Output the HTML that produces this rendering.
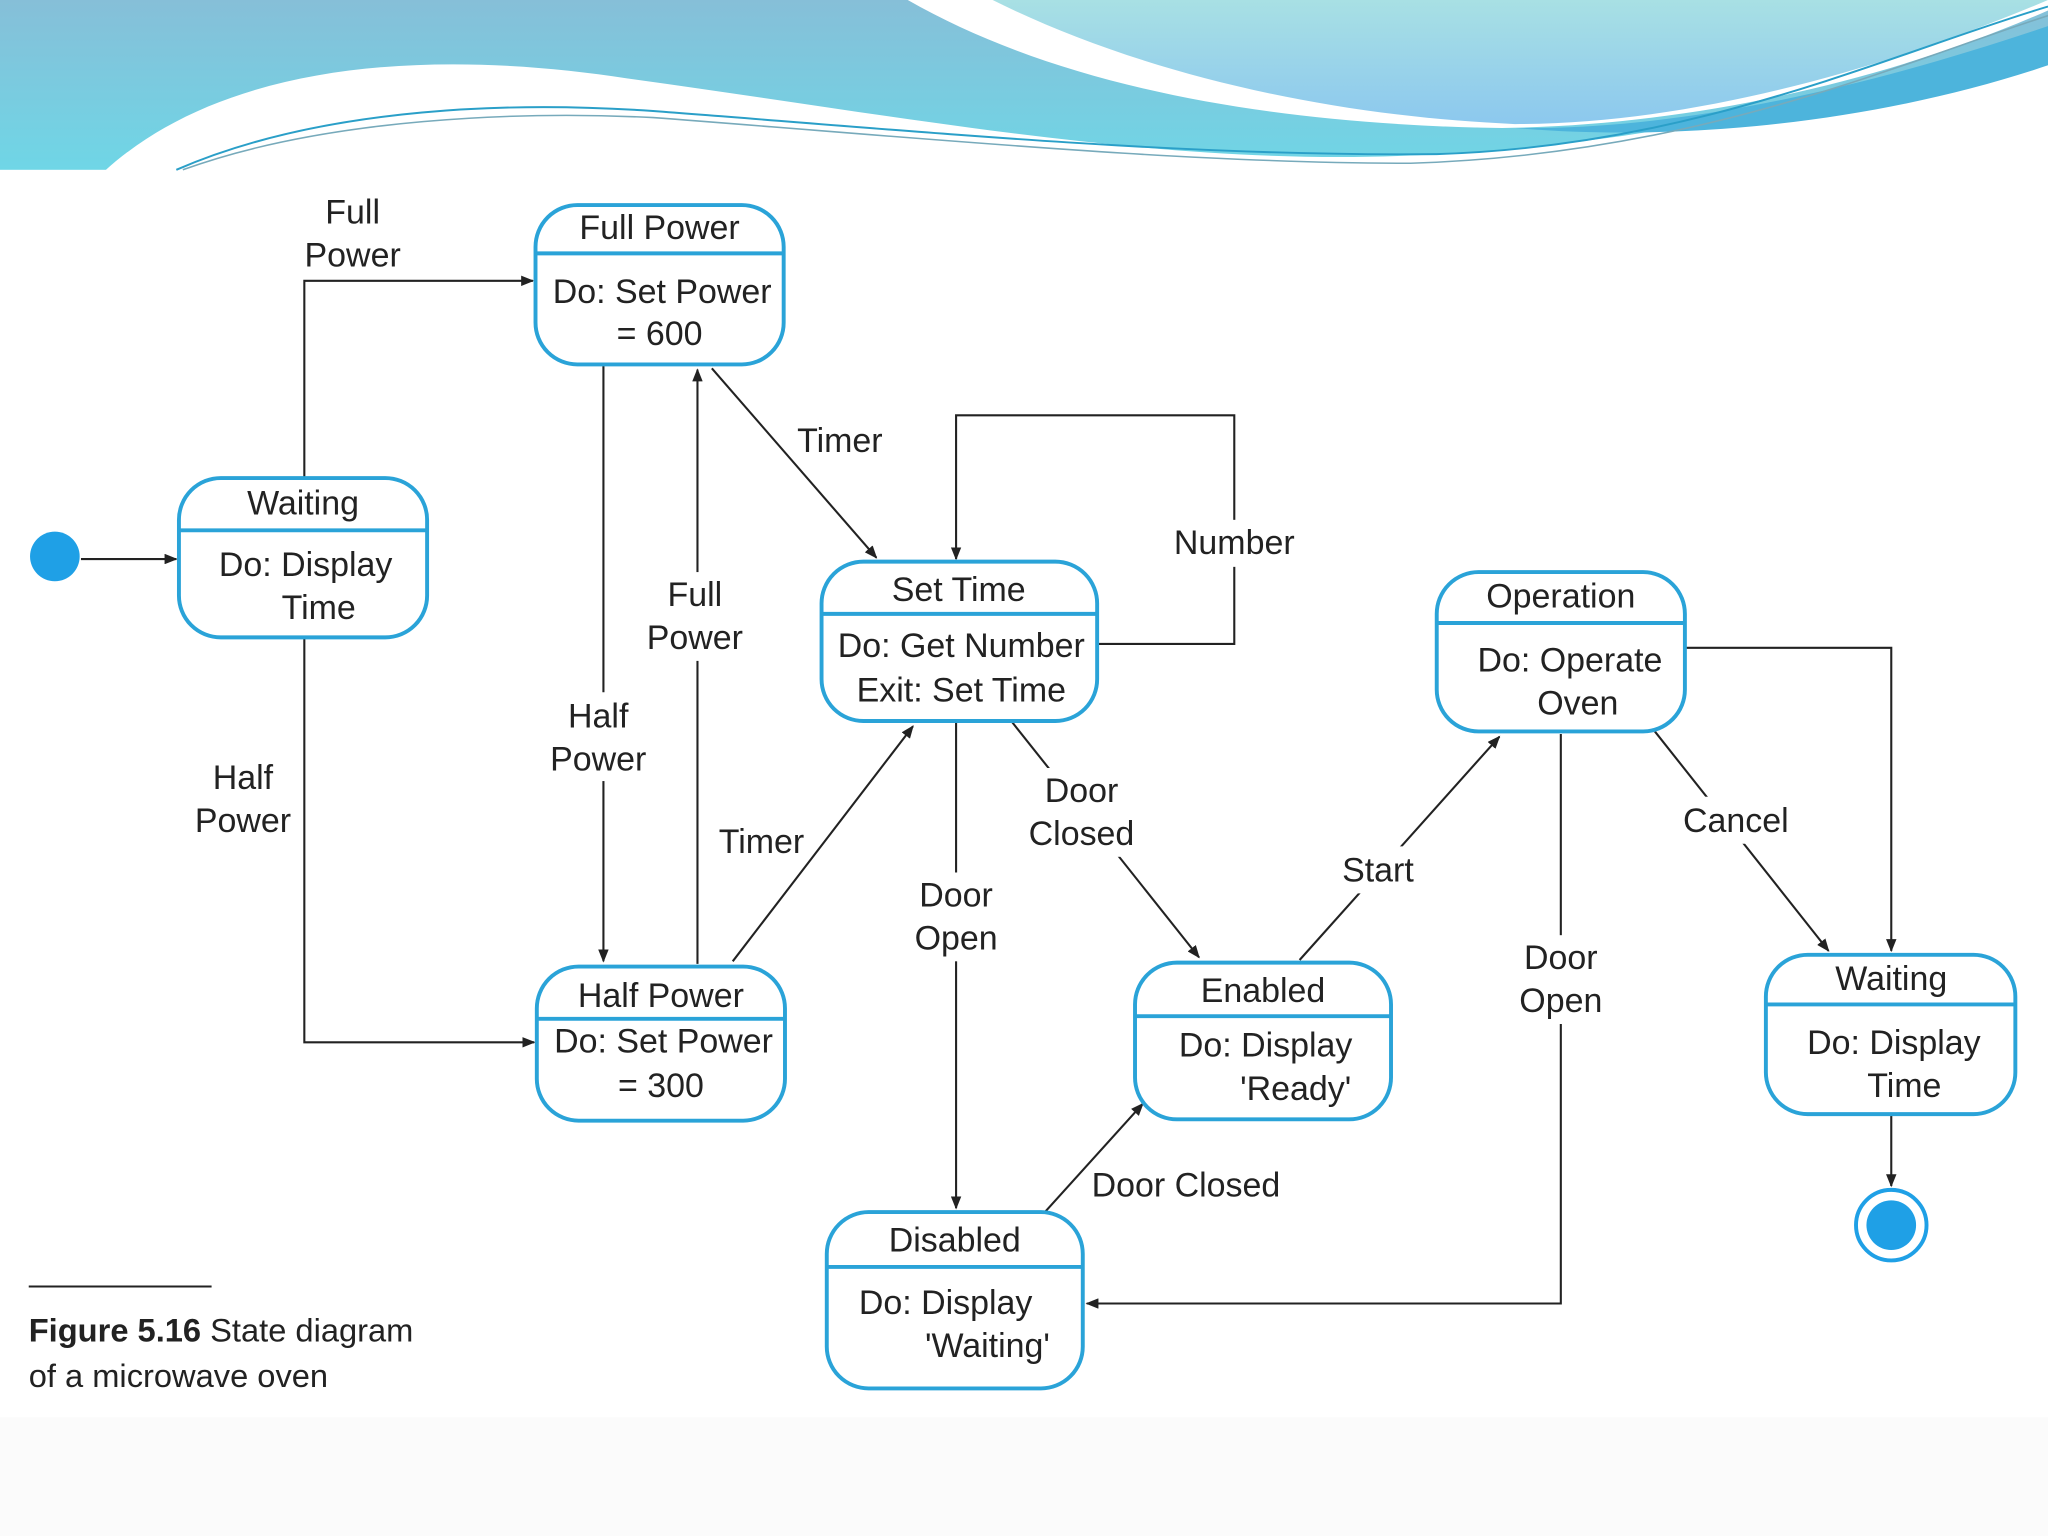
<!DOCTYPE html>
<html><head><meta charset="utf-8"><style>
html,body{margin:0;padding:0;background:#fff;}
svg{display:block;}
text{font-family:"Liberation Sans",sans-serif;fill:#222;}
</style></head><body>
<svg width="2048" height="1536" viewBox="0 0 1568 1176" xmlns="http://www.w3.org/2000/svg">
<defs>
<linearGradient id="g1" x1="0" y1="0" x2="0" y2="1"><stop offset="0" stop-color="#86bfd8"/><stop offset="1" stop-color="#6fd6e6"/></linearGradient>
<linearGradient id="g2" x1="0" y1="0" x2="0" y2="1"><stop offset="0" stop-color="#a8e0e4"/><stop offset="1" stop-color="#8cc8ee"/></linearGradient>
<marker id="a" markerWidth="10" markerHeight="8" refX="9" refY="4" orient="auto" markerUnits="userSpaceOnUse"><path d="M0,0 L10,4 L0,8 z" fill="#222"/></marker>
</defs>
<!-- header -->
<rect x="0" y="0" width="1568" height="130" fill="url(#g1)"/>
<path d="M80,131 C180,40 350,40 480,60 C700,90 900,130 1100,118 C1300,108 1450,60 1568,30 L1568,131 Z" fill="#fff"/>
<path d="M695,0 C800,60 950,95 1150,98 C1300,96 1450,60 1568,8 L1568,0 Z" fill="#fff"/>
<path d="M760,0 C860,50 1000,88 1160,95 C1300,95 1450,50 1568,0 Z" fill="url(#g2)"/>
<path d="M1160,98 C1300,100 1450,60 1568,20 L1568,50 C1450,90 1300,110 1160,98Z" fill="#4db4dc"/>
<path d="M135,130 C250,80 400,78 500,85 C700,100 900,120 1100,118 C1300,112 1450,40 1568,5" fill="none" stroke="#2a9fc8" stroke-width="1.5"/>
<path d="M140,130 C250,90 400,85 500,90 C700,105 900,125 1080,125 C1300,118 1450,50 1568,12" fill="none" stroke="#7ab" stroke-width="1.2"/>
<rect x="0" y="1085" width="1568" height="91" fill="#fbfbfb"/>
<!-- connectors -->
<g stroke="#222" stroke-width="1.6" fill="none" marker-end="url(#a)">
<path d="M62,428 L135,428"/>
<path d="M233,366 L233,215 L408,215"/>
<path d="M233,488 L233,798 L409,798"/>
<path d="M462,280 L462,736"/>
<path d="M534,738 L534,283"/>
<path d="M545,282 L671,427"/>
<path d="M561,736 L699,556"/>
<path d="M840,493 L945,493 L945,318 L732,318 L732,428"/>
<path d="M732,553 L732,925"/>
<path d="M775,553 L918,733"/>
<path d="M995,735 L1148,564"/>
<path d="M800,928 L875,845"/>
<path d="M1195,562 L1195,998 L832,998"/>
<path d="M1267,560 L1400,728"/>
<path d="M1290,496 L1448,496 L1448,728"/>
<path d="M1448,853 L1448,908"/>
</g>
<!-- label backgrounds -->
<g fill="#fff">
<rect x="140" y="578" width="90" height="68"/>
<rect x="415" y="530" width="90" height="68"/>
<rect x="490" y="438" width="90" height="68"/>
<rect x="890" y="398" width="110" height="36"/>
<rect x="690" y="668" width="84" height="68"/>
<rect x="1155" y="716" width="80" height="68"/>
<rect x="1020" y="648" width="70" height="36"/>
<rect x="1285" y="610" width="90" height="36"/>
<rect x="785" y="588" width="90" height="68"/>
</g>
<g font-size="26" text-anchor="middle">
<text x="270" y="171">Full</text><text x="270" y="204">Power</text>
<text x="186" y="604">Half</text><text x="186" y="637">Power</text>
<text x="458" y="557">Half</text><text x="458" y="590">Power</text>
<text x="532" y="464">Full</text><text x="532" y="497">Power</text>
<text x="643" y="346">Timer</text>
<text x="945" y="424">Number</text>
<text x="583" y="653">Timer</text>
<text x="732" y="694">Door</text><text x="732" y="727">Open</text>
<text x="828" y="614">Door</text><text x="828" y="647">Closed</text>
<text x="1055" y="675">Start</text>
<text x="1329" y="637">Cancel</text>
<text x="1195" y="742">Door</text><text x="1195" y="775">Open</text>
<text x="908" y="916">Door Closed</text>
</g>
<!-- states -->
<g fill="#fff" stroke="#2aa3d8" stroke-width="3">
<rect x="410" y="157" width="190" height="122" rx="32"/>
<rect x="137" y="366" width="190" height="122" rx="32"/>
<rect x="629" y="430" width="211" height="122" rx="32"/>
<rect x="411" y="740" width="190" height="118" rx="32"/>
<rect x="1100" y="438" width="190" height="122" rx="32"/>
<rect x="869" y="737" width="196" height="120" rx="32"/>
<rect x="1352" y="731" width="191" height="122" rx="32"/>
<rect x="633" y="928" width="196" height="135" rx="32"/>
</g>
<g stroke="#2aa3d8" stroke-width="3">
<line x1="410" y1="194" x2="600" y2="194"/>
<line x1="137" y1="406" x2="327" y2="406"/>
<line x1="629" y1="470" x2="840" y2="470"/>
<line x1="411" y1="780" x2="601" y2="780"/>
<line x1="1100" y1="477" x2="1290" y2="477"/>
<line x1="869" y1="778" x2="1065" y2="778"/>
<line x1="1352" y1="769" x2="1543" y2="769"/>
<line x1="633" y1="970" x2="829" y2="970"/>
</g>
<g font-size="26" text-anchor="middle">
<text x="505" y="183">Full Power</text><text x="507" y="232">Do: Set Power</text><text x="505" y="264">= 600</text>
<text x="232" y="394">Waiting</text><text x="234" y="441">Do: Display</text><text x="244" y="474">Time</text>
<text x="734" y="460">Set Time</text><text x="736" y="503">Do: Get Number</text><text x="736" y="537">Exit: Set Time</text>
<text x="506" y="771">Half Power</text><text x="508" y="806">Do: Set Power</text><text x="506" y="840">= 300</text>
<text x="1195" y="465">Operation</text><text x="1202" y="514">Do: Operate</text><text x="1208" y="547">Oven</text>
<text x="967" y="767">Enabled</text><text x="969" y="809">Do: Display</text><text x="992" y="842">'Ready'</text>
<text x="1448" y="758">Waiting</text><text x="1450" y="807">Do: Display</text><text x="1458" y="840">Time</text>
<text x="731" y="958">Disabled</text><text x="724" y="1006">Do: Display</text><text x="756" y="1039">'Waiting'</text>
</g>
<circle cx="42" cy="426" r="19" fill="#1fa0e6"/>
<circle cx="1448" cy="938" r="27" fill="#fff" stroke="#1fa0e6" stroke-width="3"/>
<circle cx="1448" cy="938" r="19" fill="#1fa0e6"/>
<line x1="22" y1="985" x2="162" y2="985" stroke="#222" stroke-width="1.5"/>
<text x="22" y="1027" font-size="25"><tspan font-weight="bold">Figure 5.16</tspan>  State diagram</text>
<text x="22" y="1062" font-size="25">of a microwave oven</text>
</svg>
</body></html>
